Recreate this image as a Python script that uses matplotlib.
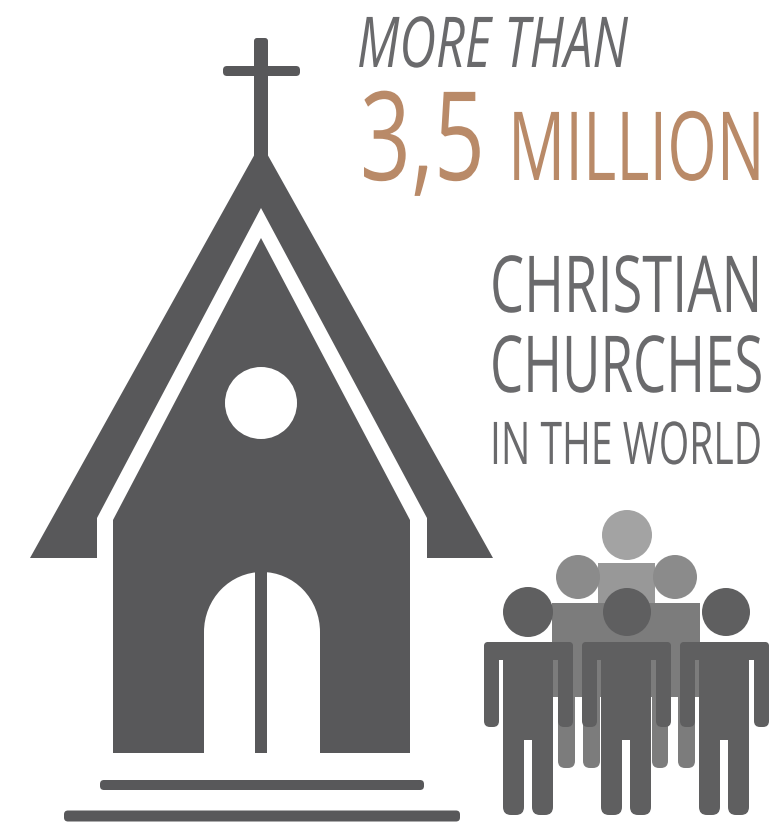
import matplotlib
matplotlib.use('Agg')
import matplotlib.pyplot as plt
from matplotlib.patches import Circle, Ellipse, FancyBboxPatch, Polygon, Rectangle
from matplotlib.patheffects import AbstractPathEffect
from matplotlib.transforms import Affine2D, Bbox

W, H = 779, 836
DARK = '#58585a'
FRONT = '#5f5f60'
MID = '#7c7c7c'
MID_HEAD = '#8b8b8b'
BACK = '#a3a3a3'
BACK_BODY = '#989898'
TXT = '#6a6a6c'
ORANGE = '#b98a68'

# church outline, picture pixels
roof = [(261, 143), (493, 558), (427, 558), (427, 518), (261, 208), (97, 518), (97, 558), (30, 558)]
nave = [(261, 238), (410, 520), (410, 753), (113, 753), (113, 520)]
steps = [(100, 424, 785, 10), (64, 460, 816, 11)]

# people
front_x = [484, 582, 680]
mid_legs = [(558, 575), (583, 600), (652, 668), (678, 695)]
front_heads = [(528, 612, 25), (627, 612, 24), (726, 612, 24)]
mid_heads = [(578, 577, 22), (675, 577, 22)]
back_head = (627, 535, 25)

# label, x0, x1, baseline, cap height, colour, italic
labels = [
    ('MORE THAN', 357, 628, 67, 50, TXT, True),
    ('3,5', 360, 485, 180, 88, ORANGE, False),
    ('MILLION', 508, 765, 180, 68, ORANGE, False),
    ('CHRISTIAN', 490, 762, 312, 56, TXT, False),
    ('CHURCHES', 490, 763, 392, 56, TXT, False),
    ('IN THE WORLD', 490, 762, 464, 42, TXT, False),
]


class Squeeze(AbstractPathEffect):
    def __init__(self, x0, sx):
        super().__init__()
        self.x0 = x0
        self.sx = sx

    def draw_path(self, renderer, gc, tpath, affine, rgbFace=None):
        t = Affine2D().translate(-self.x0, 0).scale(self.sx, 1).translate(self.x0, 0)
        renderer.draw_path(gc, tpath, affine + t, rgbFace)


def box(ax, x0, x1, y0, y1, color, r=3, z=1):
    ax.add_patch(FancyBboxPatch((x0, y0), x1 - x0, y1 - y0, boxstyle=f'round,pad=0,rounding_size={r}',
                                fc=color, ec='none', zorder=z))


def person(ax, x, color, z):
    # x is left edge of the shoulders
    box(ax, x, x + 89, 642, 660, color, 4, z)
    box(ax, x, x + 15, 642, 727, color, 6, z)
    box(ax, x + 74, x + 89, 642, 727, color, 6, z)
    ax.add_patch(Rectangle((x + 19, 642), 50, 98, fc=color, ec='none', zorder=z))
    box(ax, x + 19, x + 40, 700, 815, color, 8, z)
    box(ax, x + 48, x + 69, 700, 815, color, 8, z)


fig = plt.figure(figsize=(W / 100, H / 100), dpi=100)
ax = fig.add_axes([0, 0, 1, 1])
ax.set_xlim(0, W)
ax.set_ylim(H, 0)
ax.axis('off')

# cross
box(ax, 254, 268, 38, 165, DARK, 3)
box(ax, 223, 300, 66, 76, DARK, 4)

# church
ax.add_patch(Polygon(roof, fc=DARK, ec='none'))
ax.add_patch(Polygon(nave, fc=DARK, ec='none'))
ax.add_patch(Circle((261, 403), 36, fc='white', ec='none', zorder=2))
ax.add_patch(Ellipse((262, 632), 116, 120, fc='white', ec='none', zorder=2))
ax.add_patch(Rectangle((204, 632), 116, 121, fc='white', ec='none', zorder=2))
ax.add_patch(Rectangle((255, 572), 12, 181, fc=DARK, ec='none', zorder=3))
for x0, x1, y, t in steps:
    box(ax, x0, x1, y - t / 2, y + t / 2, DARK, 4)

# back row
ax.add_patch(Circle(back_head[:2], back_head[2], fc=BACK, ec='none', zorder=2))
ax.add_patch(Rectangle((598, 563), 57, 40, fc=BACK_BODY, ec='none', zorder=2))

# middle row
for x, y, r in mid_heads:
    ax.add_patch(Circle((x, y), r, fc=MID_HEAD, ec='none', zorder=3))
ax.add_patch(Rectangle((552, 603), 148, 94, fc=MID, ec='none', zorder=3))
for x0, x1 in mid_legs:
    box(ax, x0, x1, 660, 768, MID, 7, 3)

# front row
for x in front_x:
    person(ax, x, FRONT, 4)
for x, y, r in front_heads:
    ax.add_patch(Circle((x, y), r, fc=FRONT, ec='none', zorder=5))

# text, squeezed to the condensed width of the original
rend = fig.canvas.get_renderer()
for s, x0, x1, base, cap, col, ital in labels:
    t = ax.text(x0, base, s, color=col, fontsize=cap * 1.01, family='Open Sans',
                style='italic' if ital else 'normal', ha='left', va='baseline', zorder=6)
    bb = t.get_window_extent(rend)
    t.set_path_effects([Squeeze(x0, (x1 - x0) / bb.width)])
    # extent as drawn, not as laid out
    box_now = Bbox.from_extents(x0, bb.y0, x1, bb.y1)
    t.get_window_extent = lambda renderer=None, dpi=None, b=box_now: b

fig.savefig('out.png', dpi=100, facecolor='white')
